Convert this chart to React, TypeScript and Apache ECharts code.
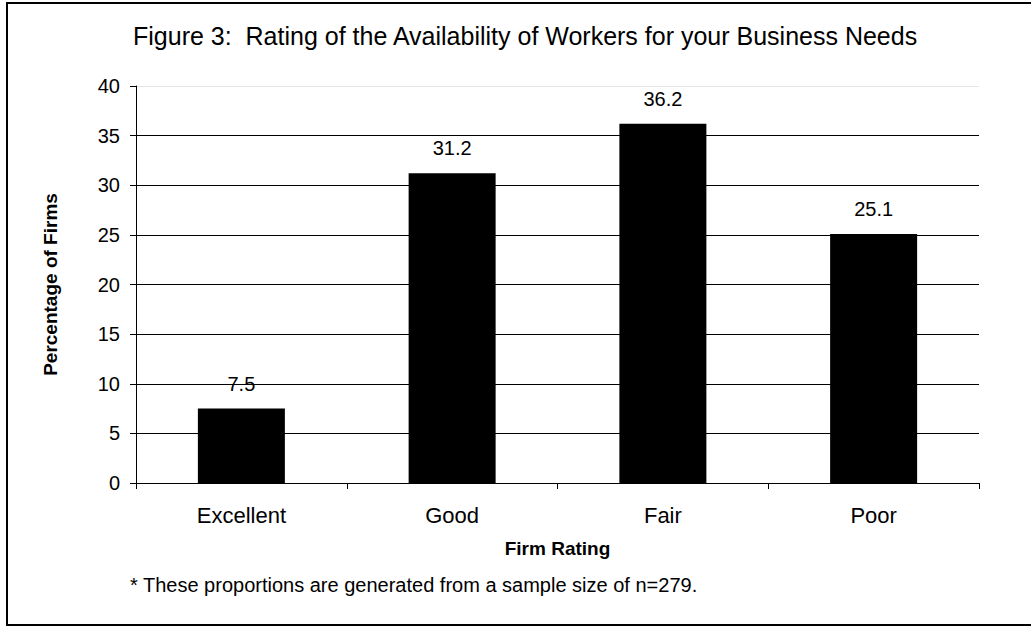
import React, { useEffect, useRef } from "react";
import * as echarts from "echarts";

const categories = ["Excellent", "Good", "Fair", "Poor"];
const values = [7.5, 31.2, 36.2, 25.1];
const yMin = 0;
const yMax = 40;
const yInterval = 5;
const titleText = "Figure 3:  Rating of the Availability of Workers for your Business Needs";
const footnoteText = "* These proportions are generated from a sample size of n=279.";
const xName = "Firm Rating";
const yName = "Percentage of Firms";

const FONT = "'Liberation Sans', Arial, sans-serif";

export default function App() {
  const ref = useRef<HTMLDivElement>(null);
  useEffect(() => {
    if (!ref.current) return;
    const chart = echarts.init(ref.current, null, { renderer: "svg" });
    const nLines = (yMax - yMin) / yInterval + 1;
    const gridColors = Array.from({ length: nLines }, (_, i) => (i === nLines - 1 ? "#e6e6e6" : "#000000"));
    chart.setOption({
      animation: false,
      backgroundColor: "#ffffff",
      textStyle: { fontFamily: FONT, color: "#000" },
      grid: { left: 136, right: 52, top: 86, bottom: 143 },
      xAxis: {
        type: "category",
        data: categories,
        axisLine: { lineStyle: { color: "#000", width: 1 } },
        axisTick: { show: true, alignWithLabel: false, length: 6, lineStyle: { color: "#000" } },
        axisLabel: { fontSize: 22, color: "#000", margin: 21, fontFamily: FONT },
        name: xName,
        nameLocation: "middle",
        nameGap: 56,
        nameTextStyle: { fontSize: 19, fontWeight: "bold", color: "#000", fontFamily: FONT },
      },
      yAxis: {
        type: "value",
        min: yMin,
        max: yMax,
        interval: yInterval,
        axisLine: { show: true, lineStyle: { color: "#000", width: 1 } },
        axisTick: { show: true, length: 6, lineStyle: { color: "#000" } },
        axisLabel: { fontSize: 20, color: "#000", margin: 16, fontFamily: FONT },
        splitLine: { show: true, lineStyle: { color: gridColors, width: 1 } },
        name: yName,
        nameLocation: "middle",
        nameGap: 76,
        nameRotate: 90,
        nameTextStyle: { fontSize: 19, fontWeight: "bold", color: "#000", fontFamily: FONT },
      },
      series: [
        {
          type: "bar",
          data: values,
          barWidth: 87,
          itemStyle: { color: "#000" },
          label: {
            show: true,
            position: "top",
            distance: 15,
            fontSize: 20,
            color: "#000",
            fontFamily: FONT,
          },
        },
      ],
      graphic: [
        {
          type: "polyline",
          shape: { points: [[1040, 3], [7, 3], [7, 625], [1040, 625]] },
          style: { stroke: "#000", lineWidth: 2, fill: "none" },
          silent: true,
        },
        {
          type: "text",
          x: 133,
          y: 36,
          style: {
            text: titleText,
            fontSize: 25,
            fontFamily: FONT,
            fill: "#000",
            textVerticalAlign: "middle",
            textAlign: "left",
          },
        },
        {
          type: "text",
          x: 130,
          y: 585,
          style: {
            text: footnoteText,
            fontSize: 20,
            fontFamily: FONT,
            fill: "#000",
            textVerticalAlign: "middle",
            textAlign: "left",
          },
        },
      ],
    });
    return () => chart.dispose();
  }, []);
  return (
    <div
      ref={ref}
      style={{ position: "fixed", left: 0, top: 0, width: 1031, height: 626, background: "#fff" }}
    />
  );
}
